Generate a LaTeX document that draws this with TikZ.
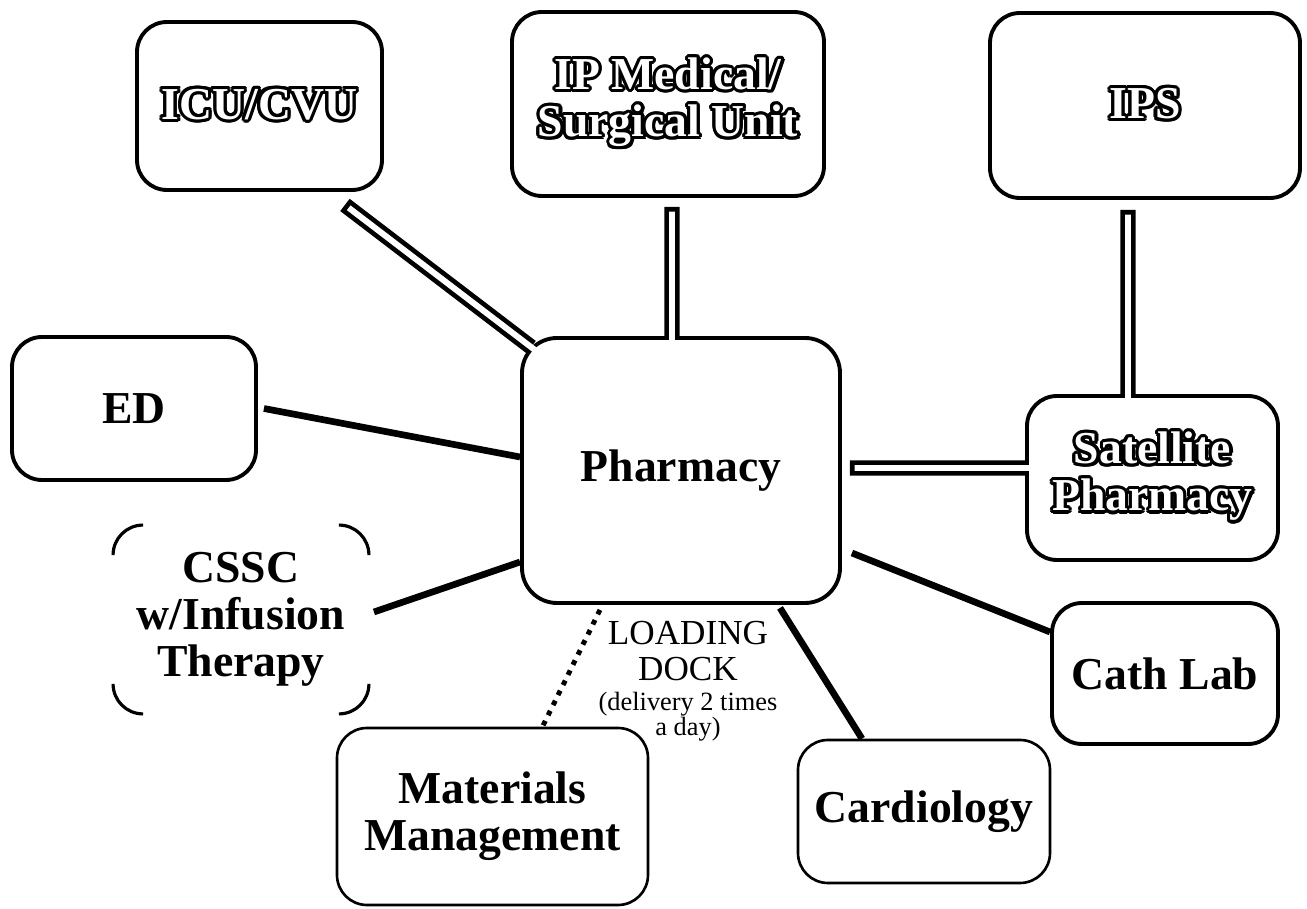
\documentclass[tikz,border=0pt]{standalone}
\usepackage{fontspec}
\setmainfont{Liberation Serif}
\usepackage{contour}
\usepackage{tikz}
\usetikzlibrary{positioning}
\contourlength{0.9pt}

% double "pipe" link: closed at the first end, open into the box at the second
\newcommand{\pipelink}[2]{%
  \draw[pipe] #1 -- #2;
  \draw[pipehole] #1 -- #2;}

\begin{document}
\begin{tikzpicture}[scale=1.0,
    unitbox/.style={draw, line width=1.1pt, rounded corners=0.3cm, align=center,
      inner sep=0pt, font=\fontsize{13}{13.4}\selectfont\bfseries},
    thinbox/.style={unitbox, line width=0.75pt},
    link/.style={line width=1.9pt},
    dotlink/.style={line width=1.4pt, dash pattern=on 1.4pt off 1.8pt},
    pipe/.style={line width=4.4pt},
    pipehole/.style={white, line width=1.7pt, shorten <=1.35pt, shorten >=-1.6pt}]
				\useasboundingbox (0,0) rectangle (13.07,9.09);

				% top row
				\node[unitbox, text=white, minimum width=2.45cm, minimum height=1.68cm] (icu) at (2.595,8.03) {\contour{black}{ICU/CVU}};
				\node[unitbox, text=white, minimum width=3.12cm, minimum height=1.84cm] (ipmed) at (6.68,8.05) {\contour{black}{IP Medical/}\\\contour{black}{Surgical Unit}};
				\node[unitbox, text=white, minimum width=3.10cm, minimum height=1.85cm] (ips) at (11.45,8.035) {\contour{black}{IPS}};

				% middle
				\node[unitbox, minimum width=2.44cm, minimum height=1.43cm] (ed) at (1.34,5.005) {ED};
				\node[unitbox, rounded corners=0.35cm, minimum width=3.18cm, minimum height=2.65cm] (pharm) at (6.81,4.385) {Pharmacy};
				\node[unitbox, text=white, minimum width=2.51cm, minimum height=1.64cm] (sat) at (11.525,4.31) {\contour{black}{Satellite}\\\contour{black}{Pharmacy}};

				% bottom
				\node[unitbox, draw=none, minimum width=2.52cm, minimum height=1.85cm] (cssc) at (2.41,2.895) {CSSC\\w/Infusion\\Therapy};
				\node[unitbox, minimum width=2.26cm, minimum height=1.41cm] (cath) at (11.65,2.355) {Cath Lab};
				\node[thinbox, minimum width=2.52cm, minimum height=1.43cm] (card) at (9.24,0.975) {Cardiology};
				\node[thinbox, minimum width=3.11cm, minimum height=1.77cm] (mat) at (4.925,0.925) {Materials\\Management};

				% only the corners of the CSSC box show
				\draw[line width=0.9pt] ([yshift=-0.3cm]cssc.north west) arc[start angle=180, end angle=90, radius=0.3cm];
				\draw[line width=0.9pt] ([xshift=-0.3cm]cssc.north east) arc[start angle=90, end angle=0, radius=0.3cm];
				\draw[line width=0.9pt] ([yshift=0.3cm]cssc.south east) arc[start angle=0, end angle=-90, radius=0.3cm];
				\draw[line width=0.9pt] ([xshift=0.3cm]cssc.south west) arc[start angle=270, end angle=180, radius=0.3cm];

				\node[inner sep=0pt, align=center, font=\fontsize{10}{10}\selectfont, anchor=north] (dock) at (6.88,2.88) {LOADING\\DOCK};
				\node[inner sep=0pt, align=center, font=\fontsize{7.5}{7}\selectfont, below=3pt of dock] (delivery) {(delivery 2 times\\a day)};

				% links
				\pipelink{([xshift=-0.39cm,yshift=-0.13cm]icu.south east)}{([xshift=0.11cm,yshift=-0.11cm]pharm.north west)}
				\pipelink{([xshift=0.04cm,yshift=-0.09cm]ipmed.south)}{([xshift=-0.09cm]pharm.north)}
				\pipelink{([xshift=-0.17cm,yshift=-0.1cm]ips.south)}{([xshift=-0.245cm]sat.north)}
				\pipelink{([xshift=0.08cm,yshift=0.025cm]pharm.east)}{([yshift=0.1cm]sat.west)}

				\draw[link] ([xshift=0.06cm]ed.east) -- ([yshift=0.135cm]pharm.west);
				\draw[link] ([xshift=0.05cm,yshift=0.075cm]cssc.east) -- ([yshift=-0.915cm]pharm.west);
				\draw[link] ([xshift=0.1cm,yshift=-0.825cm]pharm.east) -- ([yshift=0.415cm]cath.west);
				\draw[link] ([xshift=0.99cm,yshift=-0.03cm]pharm.south) -- ([xshift=-0.62cm]card.north);
				\draw[dotlink] ([xshift=-0.81cm,yshift=-0.05cm]pharm.south) -- ([xshift=0.5cm]mat.north);
			\end{tikzpicture}
\end{document}
